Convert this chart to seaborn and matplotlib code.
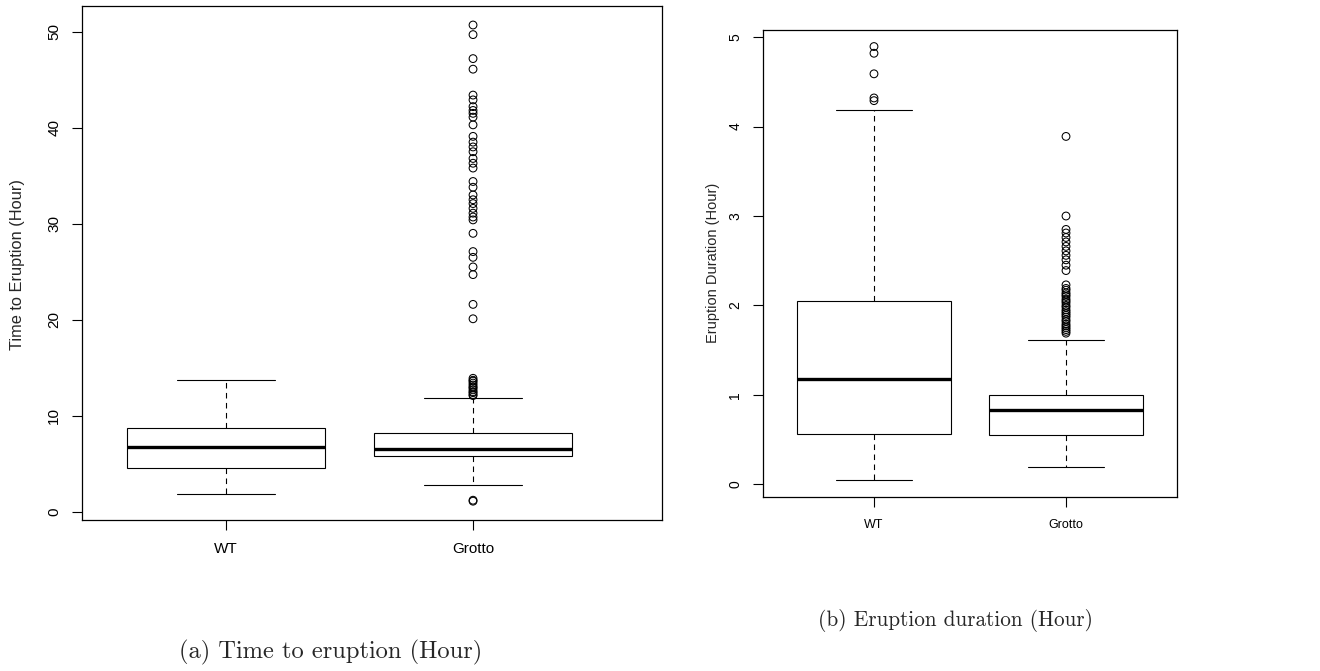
import matplotlib
matplotlib.use("Agg")
import matplotlib.pyplot as plt
import pandas as pd
import seaborn as sns

groups = ["WT", "Grotto"]

# Five-number summaries per group: lower whisker, Q1, median, Q3, upper whisker
wait_wt = [1.81, 4.55, 6.74, 8.75, 13.72]
wait_grotto = [2.75, 5.77, 6.56, 8.23, 11.84]
wait_wt_outliers = []
wait_grotto_outliers = [
    1.1, 1.2,
    12.1, 12.2, 12.4, 12.5, 12.7, 12.9, 13.0, 13.2, 13.4, 13.6, 13.7, 13.9,
    20.1, 21.6, 24.7, 25.5, 26.5, 27.1, 29.0, 30.4, 30.7, 31.1, 31.6, 32.1,
    32.5, 33.0, 33.8, 34.4, 35.8, 36.3, 36.8, 37.5, 38.0, 38.5, 39.1, 40.3,
    41.1, 41.5, 41.8, 42.2, 42.9, 43.4, 46.1, 47.2, 49.7, 50.7,
]

duration_wt = [0.05, 0.563, 1.178, 2.05, 4.19]
duration_grotto = [0.197, 0.548, 0.831, 0.995, 1.614]
duration_wt_outliers = [4.29, 4.32, 4.59, 4.82, 4.895]
duration_grotto_outliers = [
    1.69, 1.71, 1.73, 1.75, 1.77, 1.79, 1.82, 1.84, 1.87, 1.89, 1.91, 1.93,
    1.95, 1.98, 2.00, 2.03, 2.05, 2.07, 2.10, 2.12, 2.14, 2.17, 2.19, 2.23,
    2.39, 2.45, 2.51, 2.56, 2.61, 2.66, 2.71, 2.76, 2.81, 2.85, 3.00, 3.89,
]

wait_ticks = [0, 10, 20, 30, 40, 50]
duration_ticks = [0, 1, 2, 3, 4, 5]


def long_form(wt_values, grotto_values):
    return pd.DataFrame({
        "group": ["WT"] * len(wt_values) + ["Grotto"] * len(grotto_values),
        "value": list(wt_values) + list(grotto_values),
    })


sns.set_theme(style="ticks")
plt.rcParams["font.family"] = ["Liberation Sans", "DejaVu Sans"]

W, H = 1320, 671
fig = plt.figure(figsize=(W / 100, H / 100), dpi=100)
fig.patch.set_facecolor("white")


def px_axes(x0, y0, x1, y1):
    return fig.add_axes([x0 / W, 1 - y1 / H, (x1 - x0) / W, (y1 - y0) / H])


def draw_panel(ax, summary, outliers, ylim, xlim, yticks, ytick_fs, xtick_fs):
    sns.boxplot(
        data=summary, x="group", y="value", order=groups, whis=(0, 100),
        width=0.8, color="white", linecolor="black", linewidth=0.8,
        showfliers=False,
        medianprops={"linewidth": 2.4, "solid_capstyle": "butt"},
        whiskerprops={"linestyle": (0, (5, 4))},
        capprops={"linestyle": "-"},
        ax=ax,
    )
    n_before = len(ax.collections)
    sns.stripplot(
        data=outliers, x="group", y="value", order=groups, jitter=False,
        size=5.6, marker="o", linewidth=0.75, edgecolor="black", ax=ax,
    )
    for coll in ax.collections[n_before:]:
        coll.set_facecolor("none")
        coll.set_edgecolor("black")
        coll.set_linewidth(0.75)
    ax.set_xlim(*xlim)
    ax.set_ylim(*ylim)
    ax.set_xlabel("")
    ax.set_ylabel("")
    ax.set_yticks(yticks)
    ax.set_yticklabels([str(t) for t in yticks], rotation=90, va="center",
                       fontsize=ytick_fs)
    ax.set_xticks([0, 1])
    ax.set_xticklabels(groups, fontsize=xtick_fs)
    ax.tick_params(axis="both", direction="out", length=7, width=0.8,
                   color="black", labelcolor="black")
    ax.tick_params(axis="y", pad=8)
    ax.tick_params(axis="x", pad=9)
    for side in ["left", "right", "top", "bottom"]:
        ax.spines[side].set_visible(True)
        ax.spines[side].set_color("black")
        ax.spines[side].set_linewidth(0.9)
    ax.set_facecolor("white")


# (a) time to eruption
ax_a = px_axes(82, 6, 662, 520)
draw_panel(
    ax_a, long_form(wait_wt, wait_grotto),
    long_form(wait_wt_outliers, wait_grotto_outliers),
    ylim=(-0.86, 52.68), xlim=(-0.583, 1.765), yticks=wait_ticks,
    ytick_fs=11, xtick_fs=11,
)
fig.text(18 / W, 1 - 265 / H, "Time to Eruption (Hour)", rotation=90,
         ha="center", va="center", fontsize=11.8)

# (b) eruption duration
ax_b = px_axes(763, 30, 1177, 497)
draw_panel(
    ax_b, long_form(duration_wt, duration_grotto),
    long_form(duration_wt_outliers, duration_grotto_outliers),
    ylim=(-0.142, 5.08), xlim=(-0.578, 1.578), yticks=duration_ticks,
    ytick_fs=10, xtick_fs=9,
)
fig.text(713 / W, 1 - 263 / H, "Eruption Duration (Hour)", rotation=90,
         ha="center", va="center", fontsize=10.5)

# panel captions
fig.text(331 / W, 1 - 652 / H, "(a) Time to eruption (Hour)",
         family="cmr10", fontsize=17.6, ha="center", va="center")
fig.text(955 / W, 1 - 620 / H, "(b) Eruption duration (Hour)",
         family="cmr10", fontsize=15.3, ha="center", va="center")

fig.savefig("out.png", dpi=100, facecolor="white")
